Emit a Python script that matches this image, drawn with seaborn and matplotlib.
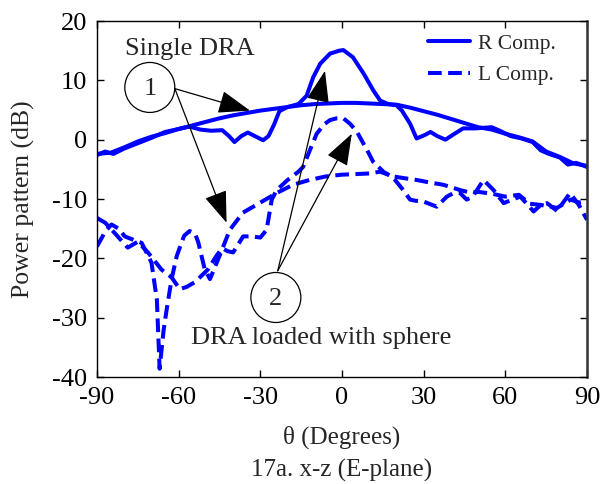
import matplotlib
matplotlib.use("Agg")
import matplotlib.pyplot as plt
from matplotlib.patches import Ellipse
import seaborn as sns
import pandas as pd

# ---------------- data ----------------
theta_single_r = [-90, -85, -80, -75, -70, -65, -60, -55, -50, -45, -40, -35, -30, -25,
                  -20, -15, -10, -5, 0, 5, 10, 15, 20, 25, 30, 35, 40, 45, 50, 55, 60,
                  65, 70, 75, 80, 85, 90]
db_single_r = [-2.4, -2.2, -1.3, -0.3, 0.5, 1.1, 1.8, 2.4, 3.0, 3.6, 4.1, 4.5, 4.9, 5.2,
               5.5, 5.8, 6.0, 6.1, 6.2, 6.2, 6.1, 6.0, 5.9, 5.4, 4.8, 4.2, 3.5, 2.8, 2.1,
               1.7, 1.0, 0.4, -0.3, -2.0, -2.9, -4.0, -4.4]

theta_loaded_r = [-90, -87, -84, -80, -75, -70, -65, -60, -56, -52, -48, -44, -41.5, -39.5,
                  -37, -34.6, -32, -29, -27, -25, -23, -20, -16, -13, -10.6, -8, -4.4, -1,
                  0.5, 4, 8, 11.5, 14, 17, 20, 22, 25, 27.4, 30.5, 32.5, 35, 38, 41, 44.5,
                  49, 52, 55, 58, 62, 66, 70, 73, 76, 80, 83, 86, 90]
db_loaded_r = [-2.6, -2.0, -2.4, -1.5, -0.6, 0.3, 1.3, 1.8, 2.2, 1.7, 1.5, 1.6, 0.6, -0.4,
               0.6, 1.2, 0.6, -0.1, 0.6, 2.5, 4.8, 5.5, 6.0, 7.4, 10.5, 12.8, 14.5, 15.0,
               15.1, 13.9, 11.1, 8.3, 6.6, 6.0, 5.8, 4.9, 2.7, 0.2, 0.8, 1.3, 0.6, 0.0, 0.9,
               1.9, 1.9, 2.0, 2.1, 1.5, 0.6, 0.2, -0.4, -1.8, -2.4, -3.0, -4.2, -3.9, -4.6]

theta_single_l = [-90, -87, -84.7, -82, -79.8, -76, -73.6, -70, -68, -67, -65.5, -64.4,
                  -62.6, -60.7, -58, -56, -54, -52.8, -50.4, -48.5, -45, -41.2, -36.4, -30,
                  -24, -18, -12, -6, 0, 5, 10, 14, 18.8, 23, 27.5, 32, 37.2, 40, 43.4, 47,
                  50, 55, 60, 65, 69, 73, 79, 84, 87, 90]
db_single_l = [-18.0, -15.5, -14.3, -15.0, -16.3, -17.0, -17.4, -20.7, -27.0, -38.6, -32.0,
               -28.6, -23.5, -19.6, -16.2, -15.4, -15.8, -17.3, -21.9, -23.5, -19.6, -15.2,
               -12.3, -10.6, -9.0, -7.6, -6.8, -6.2, -5.9, -5.8, -5.7, -5.4, -6.2, -6.5,
               -6.8, -7.2, -7.6, -8.0, -8.5, -8.9, -8.8, -9.1, -9.6, -9.3, -10.8, -11.0,
               -11.5, -10.1, -10.6, -10.3]

theta_loaded_l = [-90, -87, -83, -78.7, -75, -71.3, -66.3, -62.6, -59.6, -57, -54, -49.3,
                  -46, -44, -42, -40, -36.3, -33, -30, -27.7, -25.8, -24, -20, -16, -14.3,
                  -12, -9.3, -6.5, -4.4, -2, 0.5, 2.9, 5.4, 7.8, 9.5, 11.4, 15.2, 18.8, 22.5,
                  25, 27, 29.8, 34.8, 38.5, 41, 43.4, 45.8, 48, 52, 55.7, 59.4, 62, 65.5,
                  70.4, 73, 75.3, 79, 83.8, 87, 90]
db_loaded_l = [-13.2, -14.0, -16.0, -18.2, -17.2, -19.0, -21.9, -23.2, -25.2, -24.8, -24.0,
               -21.9, -19.5, -18.3, -18.8, -19.0, -16.3, -16.3, -16.5, -15.2, -10.1, -8.5,
               -6.8, -5.4, -4.6, -2.0, 1.0, 2.6, 3.3, 3.6, 3.6, 2.7, 1.4, -0.6, -2.0, -3.7,
               -5.4, -6.4, -8.5, -10.1, -10.3, -10.4, -11.3, -9.6, -9.0, -9.0, -10.1, -9.6,
               -6.8, -8.5, -10.7, -10.2, -9.6, -12.1, -11.0, -10.7, -12.0, -9.0, -11.0, -13.5]

x_ticks = [-90, -60, -30, 0, 30, 60, 90]
y_ticks = [-40, -30, -20, -10, 0, 10, 20]
legend_labels = ["R Comp.", "L Comp."]

# ---------------- style ----------------
sns.set_theme(style="white")
plt.rcParams["font.family"] = ["Liberation Serif", "DejaVu Serif"]
plt.rcParams["axes.unicode_minus"] = False

BLUE = "#0000ff"
LW = 2.9
DASH = (0, (3.4, 1.6))

fig = plt.figure(figsize=(6.03, 4.84), dpi=100)
ax = fig.add_axes([97 / 603, 1 - 377 / 484, 490 / 603, 356 / 484])

curves = [
    (theta_single_r, db_single_r, "-", legend_labels[0]),
    (theta_loaded_r, db_loaded_r, "-", None),
    (theta_single_l, db_single_l, DASH, legend_labels[1]),
    (theta_loaded_l, db_loaded_l, DASH, None),
]
handles = []
for th, db, ls, lab in curves:
    df = pd.DataFrame({"theta": th, "db": db})
    n_before = len(ax.lines)
    sns.lineplot(data=df, x="theta", y="db", ax=ax, color=BLUE, lw=LW,
                 estimator=None, sort=False, legend=False)
    line = ax.lines[n_before]
    line.set_linestyle(ls)
    line.set_solid_joinstyle("round")
    line.set_dash_joinstyle("round")
    if lab is not None:
        line.set_label(lab)
        handles.append(line)

ax.set_xlim(-90, 90)
ax.set_ylim(-40, 20)
ax.set_xticks(x_ticks)
ax.set_yticks(y_ticks)
ax.set_xticklabels([str(v) for v in x_ticks])
ax.set_yticklabels([str(v) for v in y_ticks])
ax.tick_params(direction="in", length=5, width=1, colors="black", labelsize=19,
               top=True, right=True, bottom=True, left=True, pad=7)
for s in ax.spines.values():
    s.set_color("black")
    s.set_linewidth(1.0)
ax.spines["right"].set_color("#333333")
ax.spines["right"].set_linewidth(1.8)

ax.set_xlabel("θ (Degrees)\n17a. x-z (E-plane)", fontsize=18, labelpad=12,
              linespacing=1.55)
ax.set_ylabel("Power pattern (dB)", fontsize=18.5, labelpad=12)

leg = ax.legend(handles=handles, labels=legend_labels, loc="upper left",
                bbox_to_anchor=(0.675, 0.965), frameon=False, fontsize=15.5,
                handlelength=1.95, handletextpad=0.4, labelspacing=0.55,
                borderpad=0, borderaxespad=0)

# ---------------- annotations ----------------
ax.text(-79.7, 15.3, "Single DRA", fontsize=19, ha="left", va="center")
ax.text(-55.3, -33.5, "DRA loaded with sphere", fontsize=19, ha="left", va="center")

px_x = 490 / 180.0
px_y = 356 / 60.0
r = 25.0
for cx, cy, txt in [(-70.6, 8.8, "1"), (-24.3, -26.6, "2")]:
    ax.add_patch(Ellipse((cx, cy), 2 * r / px_x, 2 * r / px_y, fill=False,
                         edgecolor="black", lw=0.9, zorder=5))
    ax.text(cx, cy - 0.3, txt, fontsize=19, ha="center", va="center", zorder=6)

arrow_kw = dict(arrowstyle="-|>,head_length=1.0,head_width=0.36", color="black",
                lw=0.9, mutation_scale=20, shrinkA=0, shrinkB=0)
for start, tip in [((-61.4, 8.6), (-33.8, 4.9)), ((-61.4, 8.6), (-42.4, -14.0)),
                   ((-23.6, -22.1), (-6.25, 11.6)), ((-23.6, -22.1), (3.6, 1.0))]:
    ax.annotate("", xy=tip, xytext=start, arrowprops=arrow_kw, zorder=7)

fig.savefig("out.png", dpi=100)
